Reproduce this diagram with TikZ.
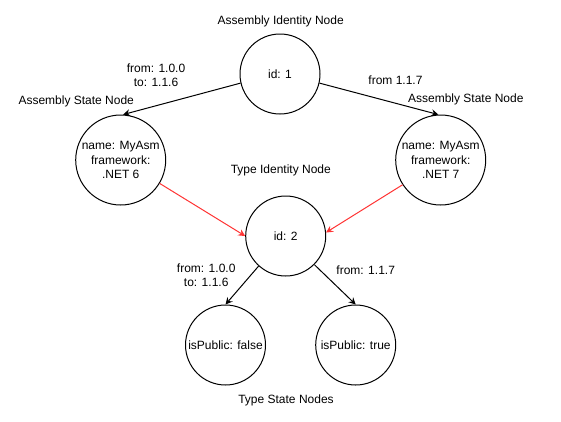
\documentclass[tikz,border=0pt]{standalone}
\usepackage{fontspec}
\setmainfont{Liberation Sans}
\usepackage{tikz}
\usetikzlibrary{arrows.meta}
\definecolor{link_red}{HTML}{FF3333}

\begin{document}
\begin{tikzpicture}[x = 1pt, y = -1pt,
            font = \fontsize{12}{14.5}\selectfont,
            id_node/.style = {circle, draw, line width = 1pt, minimum size = 80pt, inner sep = 0pt, align = center},
            state_node/.style = {id_node, minimum size = 90pt},
            edge/.style = {line width = 1pt, -{Stealth[length = 7pt, width = 7pt, inset = 2.5pt]}},
            red_edge/.style = {edge, link_red},
            caption/.style = {align = center, inner sep = 0pt}]
            \useasboundingbox (0, 0) rectangle (561, 421);
            
            \node[id_node] (asm_id) at (280, 74) {id: 1};
            \node[state_node] (asm_state6) at (120.7, 160) {name: MyAsm\\framework:\\.NET 6};
            \node[state_node] (asm_state7) at (440.7, 160) {name: MyAsm\\framework:\\.NET 7};
            \node[id_node] (type_id) at (285.7, 236) {id: 2};
            \node[id_node] (type_state_false) at (225.5, 345) {isPublic: false};
            \node[id_node] (type_state_true) at (355.7, 345) {isPublic: true};
            
            \node[caption] (asm_id_caption) at (280.7, 21) {Assembly Identity Node};
            \node[caption] (asm_state6_caption) at (76.2, 101) {Assembly State Node};
            \node[caption] (asm_state7_caption) at (465.8, 99) {Assembly State Node};
            \node[caption] (type_id_caption) at (280.8, 170.7) {Type Identity Node};
            \node[caption] (type_state_caption) at (286, 400.7) {Type State Nodes};
            
            \draw[edge] (asm_id.193) -- (asm_state6.87);
            \node[caption] (asm_range6) at (156, 75) {from: 1.0.0\\to: 1.1.6};
            \draw[edge] (asm_id.347) -- (asm_state7.93);
            \node[caption] (asm_range7) at (395.5, 80.7) {from 1.1.7};
            
            \draw[red_edge] (asm_state6.329) -- (type_id.180);
            \draw[red_edge] (asm_state7.213) -- (type_id.5);
            
            \draw[edge] (type_id.228) -- (type_state_false.north);
            \node[caption] (type_range_false) at (206.2, 275) {from: 1.0.0\\to: 1.1.6};
            \draw[edge] (type_id.315) -- (type_state_true.north);
            \node[caption] (type_range_true) at (365.7, 270.7) {from: 1.1.7};
        \end{tikzpicture}
\end{document}
